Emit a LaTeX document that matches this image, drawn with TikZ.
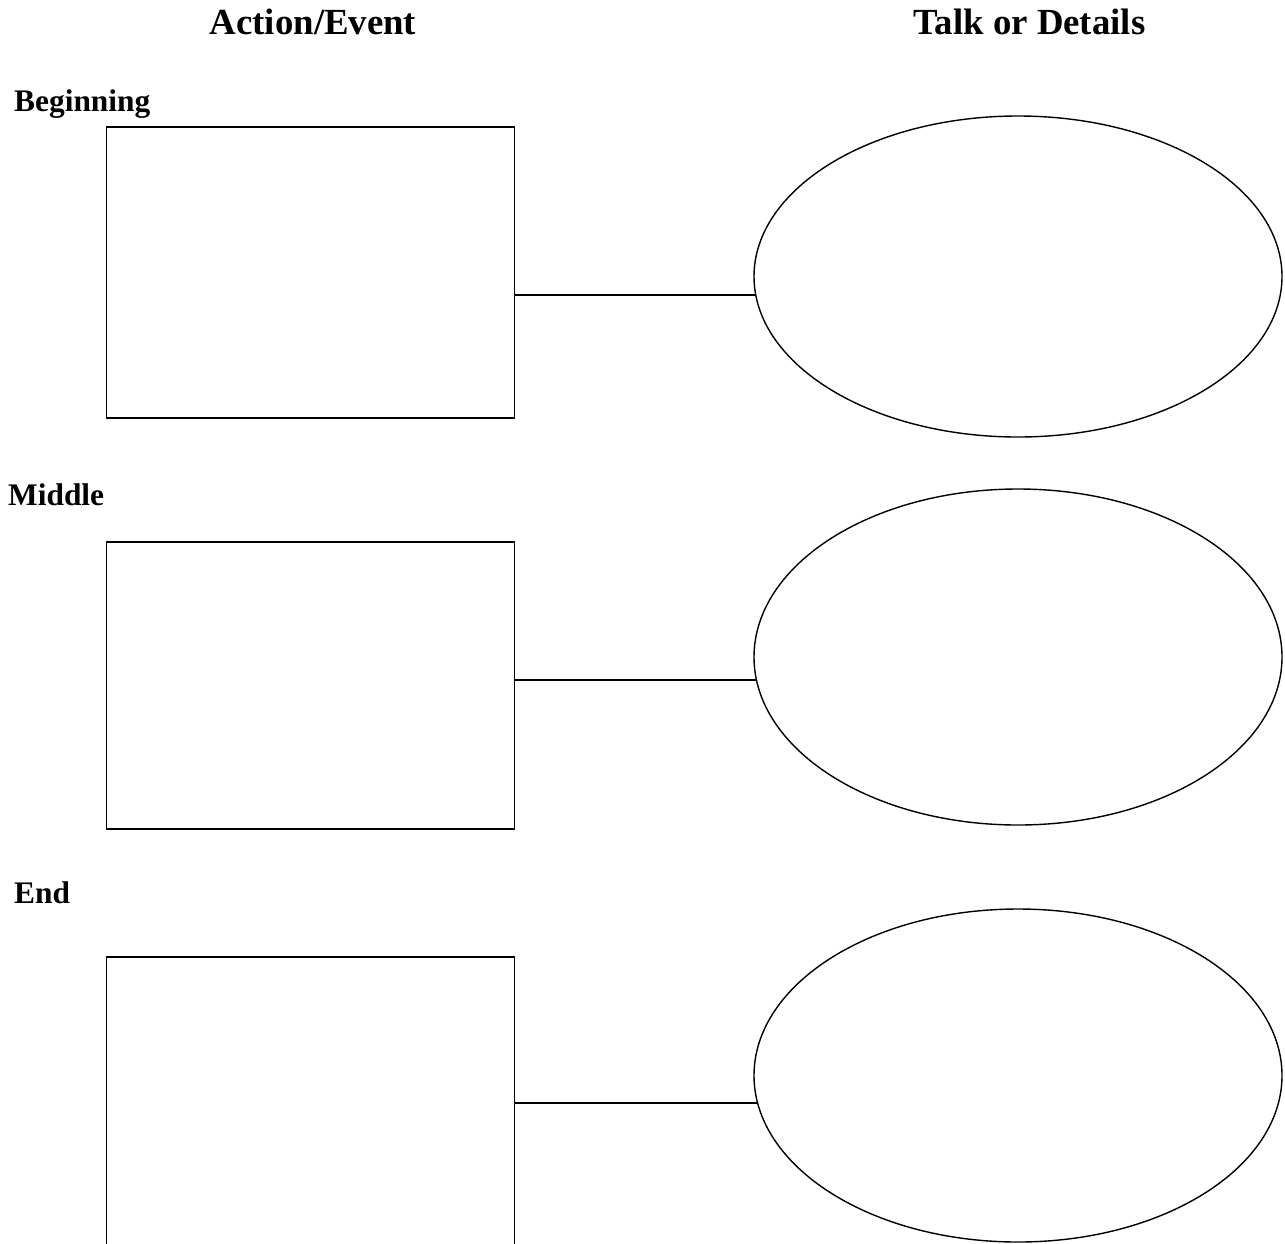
\documentclass[tikz,border=0pt]{standalone}
\usepackage{fontspec}
\setmainfont{Liberation Serif}
\usetikzlibrary{shapes.geometric}
\begin{document}
\begin{tikzpicture}[x=1pt,y=-1pt,
  actbox/.style={draw, line width=1.4pt, rectangle, minimum width=408pt, inner sep=0pt, outer sep=0pt},
  talkoval/.style={draw, line width=1.4pt, ellipse, minimum width=528pt, inner sep=0pt, outer sep=0pt},
  link/.style={line width=1.4pt},
  head/.style={font=\fontsize{36.8}{40}\selectfont\bfseries, inner sep=0pt},
  part/.style={font=\fontsize{31.4}{36}\selectfont\bfseries, inner sep=0pt, anchor=west}]
\useasboundingbox (0,0) rectangle (1285,1243);
\clip (0,0) rectangle (1285,1243);
\node[head] (h1) at (313,22) {Action/Event};
\node[head] (h2) at (1029.5,22) {Talk or Details};
\node[part] (p1) at (14,104) {Beginning};
\node[part] (p2) at (8,495) {Middle};
\node[part] (p3) at (14,893) {End};
\node[actbox, minimum height=291pt] (r1) at (310.7,272.5) {};
\node[actbox, minimum height=287pt] (r2) at (310.7,685.5) {};
\node[actbox, minimum height=303pt] (r3) at (310.7,1108.5) {};
\node[talkoval, minimum height=321pt] (e1) at (1018,276.5) {};
\node[talkoval, minimum height=336pt] (e2) at (1018,657) {};
\node[talkoval, minimum height=333pt] (e3) at (1018,1075.5) {};
\draw[link] (r1.east |- e1.184.2) -- (e1.184.2);
\draw[link] (r2.east |- e2.185.4) -- (e2.185.4);
\draw[link] (r3.east |- e3.186.4) -- (e3.186.4);
\end{tikzpicture}
\end{document}
